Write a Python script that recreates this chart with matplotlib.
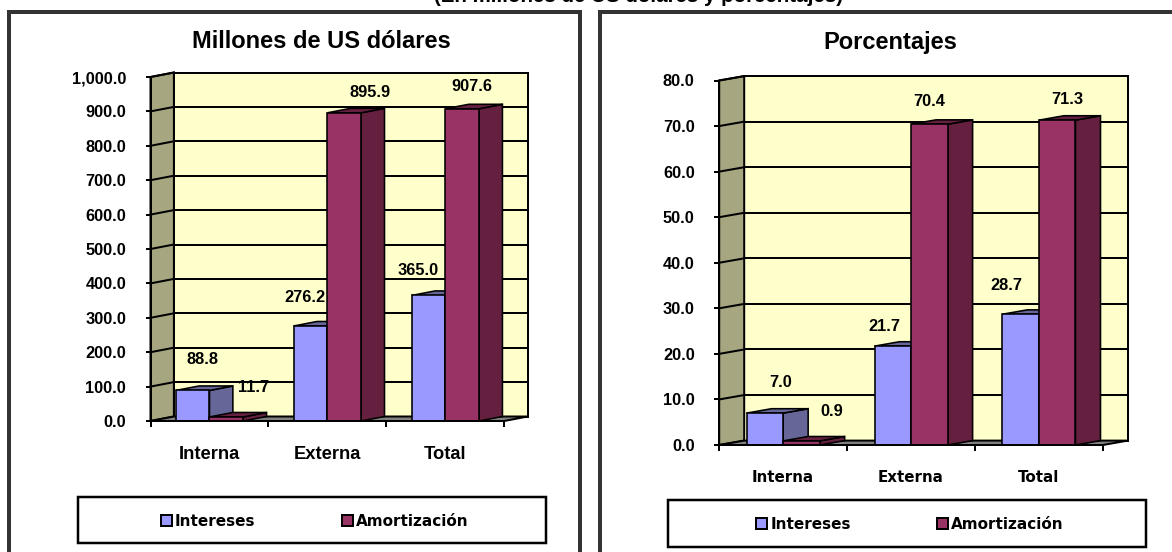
import matplotlib
matplotlib.use('Agg')
import matplotlib.pyplot as plt
from matplotlib.patches import Polygon, Rectangle, Patch
from matplotlib.transforms import Affine2D

W, H = 1172, 552

categories = ['Interna', 'Externa', 'Total']
series_names = ['Intereses', 'Amortización']

usd_interest = [88.8, 276.2, 365.0]
usd_amort = [11.7, 895.9, 907.6]
usd_ticks = [0, 100, 200, 300, 400, 500, 600, 700, 800, 900, 1000]
usd_ticklabels = ['0.0', '100.0', '200.0', '300.0', '400.0', '500.0', '600.0',
                  '700.0', '800.0', '900.0', '1,000.0']

pct_interest = [7.0, 21.7, 28.7]
pct_amort = [0.9, 70.4, 71.3]
pct_ticks = [0, 10, 20, 30, 40, 50, 60, 70, 80]
pct_ticklabels = ['0.0', '10.0', '20.0', '30.0', '40.0', '50.0', '60.0', '70.0', '80.0']

# label offsets from the bar top, in pixels (the original places them by hand)
usd_offsets = [[(10, 31), (-6, 28), (-10, 25)], [(27, 29), (26, 20), (10, 22)]]
pct_offsets = [[(16, 31), (-8, 20), (-14, 29)], [(30, 29), (0, 23), (10, 21)]]

BLUE, BLUE_SIDE = '#9999ff', '#666699'
WINE, WINE_SIDE = '#993366', '#66203f'
BACK, WALL, FLOOR = '#ffffcc', '#a6a680', '#808080'
FRAME = '#333333'
BAR_W = 1 / 3.5
px = 72 / 100  # points per pixel

fig = plt.figure(figsize=(W / 100, H / 100), dpi=100, facecolor='white')


def frame(x0, y0, x1, y1):
    fig.add_artist(Rectangle((x0 / W, 1 - y1 / H), (x1 - x0) / W, (y1 - y0) / H,
                             transform=fig.transFigure, fill=False,
                             edgecolor=FRAME, linewidth=4 * px))


def draw_bar(ax, back, x, val, face, side):
    kw = dict(edgecolor='black', linewidth=1.6 * px, joinstyle='miter', clip_on=False)
    left, right = x - BAR_W / 2, x + BAR_W / 2
    # the depth is only known in pixels, so mix front and shifted corners by hand
    to_disp = ax.transData.transform
    a, b = to_disp((left, val)), to_disp((right, val))
    c = to_disp((right, 0))
    dx, dy = back.transform((0, 0)) - to_disp((0, 0))
    top = [a, b, b + (dx, dy), a + (dx, dy)]
    rside = [b, c, c + (dx, dy), b + (dx, dy)]
    for pts, col in ((rside, side), (top, side)):
        ax.add_patch(Polygon(pts, closed=True, facecolor=col, transform=None, zorder=3, **kw))
    ax.add_patch(Rectangle((left, 0), BAR_W, val, facecolor=face, zorder=4, **kw))


def panel(box, depth, interest, amort, ticks, ticklabels, title, title_xy, offsets,
          cat_font, cat_size, cat_y, legend_box):
    x0, y_top, x1, y_bot = box
    ax = fig.add_axes([x0 / W, 1 - y_bot / H, (x1 - x0) / W, (y_bot - y_top) / H])
    ax.set_xlim(0, 3)
    ax.set_ylim(0, ticks[-1])
    ax.patch.set_visible(False)
    for s in ('top', 'right'):
        ax.spines[s].set_visible(False)
    for s in ('left', 'bottom'):
        ax.spines[s].set_linewidth(2 * px)
        ax.spines[s].set_zorder(6)

    back = ax.transData + Affine2D().translate(*depth)
    disp = ax.transData.transform
    dx, dy = depth
    ymax = ticks[-1]
    p00, p30, p0t = disp((0, 0)), disp((3, 0)), disp((0, ymax))
    shift = (dx, dy)

    line = dict(edgecolor='black', linewidth=2 * px, joinstyle='miter', clip_on=False)
    ax.add_patch(Polygon([p00, p0t, p0t + shift, p00 + shift], closed=True, facecolor=WALL,
                         transform=None, zorder=1, **line))
    ax.add_patch(Polygon([p00, p30, p30 + shift, p00 + shift], closed=True, facecolor=FLOOR,
                         transform=None, zorder=1, **line))
    ax.add_patch(Rectangle((0, 0), 3, ymax, transform=back, facecolor=BACK, zorder=0.5, **line))

    # gridlines on back wall and side wall
    for t in ticks[1:-1]:
        ax.plot([0, 3], [t, t], color='black', lw=2 * px, transform=back, zorder=2,
                solid_capstyle='butt', clip_on=False)
    for t in ticks[1:]:
        p = disp((0, t))
        ax.plot([p[0], p[0] + dx], [p[1], p[1] + dy], color='black', lw=2 * px,
                transform=None, zorder=2, clip_on=False)

    for i in range(3):
        draw_bar(ax, back, i + 0.5 - BAR_W / 2, interest[i], BLUE, BLUE_SIDE)
        draw_bar(ax, back, i + 0.5 + BAR_W / 2, amort[i], WINE, WINE_SIDE)
        for vals, sgn, off in ((interest, -1, offsets[0][i]), (amort, 1, offsets[1][i])):
            ax.annotate(f'{vals[i]:.1f}', (i + 0.5 + sgn * BAR_W / 2, vals[i]),
                        xytext=(off[0] * px, off[1] * px), textcoords='offset points',
                        ha='center', va='center', family='Liberation Sans', weight='bold',
                        fontsize=11.8, zorder=7, annotation_clip=False)

    ax.set_yticks(ticks)
    ax.set_yticklabels(ticklabels, family='Liberation Sans', weight='bold', fontsize=11.8)
    for lab in ax.get_yticklabels():
        lab.set_transform(lab.get_transform() + Affine2D().translate(0, -1))
    ax.set_xticks([0, 1, 2, 3])
    ax.set_xticklabels([])
    ax.set_xticks([0.5, 1.5, 2.5], minor=True)
    ax.set_xticklabels(categories, minor=True, family=cat_font, weight='bold', fontsize=cat_size)
    ax.tick_params(axis='y', length=5.5 * px, width=2 * px, pad=19 * px)
    ax.tick_params(axis='x', which='major', length=6 * px, width=2 * px)
    ax.tick_params(axis='x', which='minor', length=0, pad=(cat_y - y_bot - 9) * px)

    fig.text(title_xy[0] / W, 1 - title_xy[1] / H, title, family='Liberation Sans',
             weight='bold', fontsize=17, ha='center', va='center')

    handles = [Patch(facecolor=BLUE, edgecolor='black', linewidth=2 * px),
               Patch(facecolor=WINE, edgecolor='black', linewidth=2 * px)]
    lx0, ly0, lx1, ly1 = legend_box
    fig.add_artist(Rectangle((lx0 / W, 1 - ly1 / H), (lx1 - lx0) / W, (ly1 - ly0) / H,
                             transform=fig.transFigure, facecolor='white',
                             edgecolor='black', linewidth=2.5 * px))
    fig.legend(handles, series_names, ncol=2, loc='center',
               bbox_to_anchor=(((lx0 + lx1) / 2 + 3) / W, 1 - ((ly0 + ly1) / 2 + 1) / H),
               frameon=False, handlelength=0.72, handleheight=0.72, handletextpad=0.2,
               columnspacing=5.66, prop={'family': 'DejaVu Sans', 'weight': 'bold', 'size': 11})
    return ax


frame(9.5, 12, 580, 556)
frame(599.5, 12, 1176, 556)

panel((150.5, 77, 504.3, 421), (23.4, 4.5), usd_interest, usd_amort, usd_ticks, usd_ticklabels,
      'Millones de US dólares', (321, 41.5), usd_offsets, 'Liberation Sans', 13.2, 455,
      (78, 497, 545.5, 543))
panel((719.2, 80.5, 1102.9, 445), (25, 4.4), pct_interest, pct_amort, pct_ticks, pct_ticklabels,
      'Porcentajes', (890, 43), pct_offsets, 'DejaVu Sans', 10.9, 479,
      (668, 500, 1146, 546.5))

fig.text(638 / W, 1 + 4 / H, '(En millones de US dólares y porcentajes)', family='Liberation Sans',
         weight='bold', fontsize=14.8, ha='center', va='center')

fig.savefig('out.png', dpi=100)
